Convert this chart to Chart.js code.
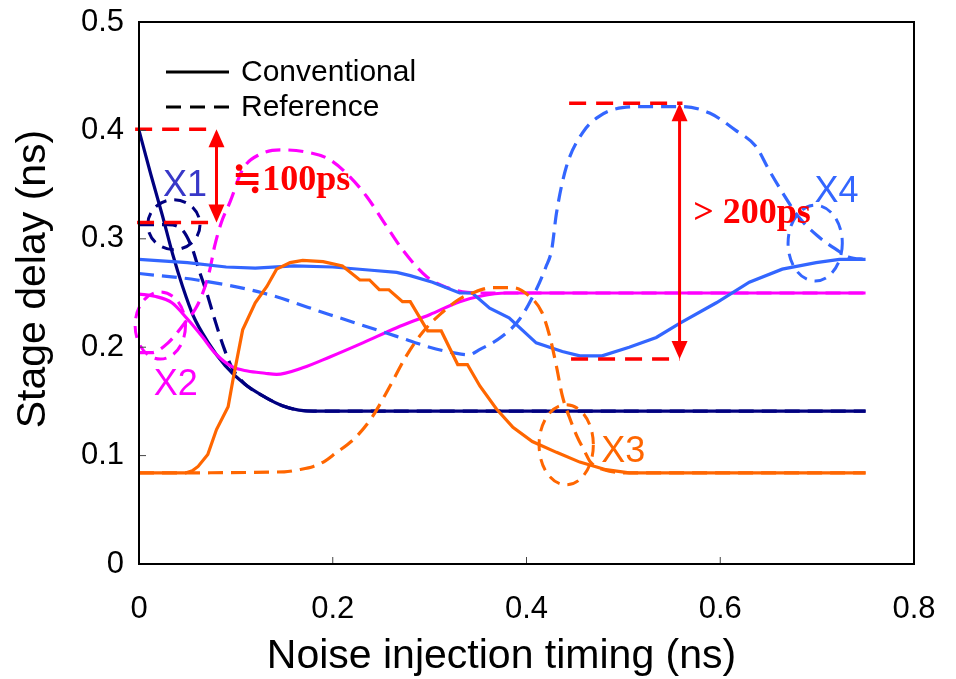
<!DOCTYPE html>
<html>
<head>
<meta charset="utf-8">
<script src="https://cdn.jsdelivr.net/npm/chart.js@4.4.1/dist/chart.umd.min.js"></script>
<style>
  html, body { margin: 0; padding: 0; background: #fff; }
  #wrap { width: 956px; height: 679px; }
</style>
</head>
<body>
<div id="wrap"><canvas id="chart" width="956" height="679"></canvas></div>
<script>
// stage delay (ns) against noise injection timing (ns), as [x, y] pairs
const x1Conventional = [[0,0.400],[0.012,0.360],[0.024,0.322],[0.035,0.285],[0.045,0.256],[0.056,0.229],[0.071,0.205],[0.089,0.183],[0.109,0.166],[0.130,0.154],[0.148,0.146],[0.165,0.142],[0.180,0.141],[0.75,0.141]];
const x1Reference = [[0,0.313],[0.030,0.313],[0.045,0.308],[0.055,0.291],[0.062,0.271],[0.070,0.250],[0.078,0.226],[0.087,0.201],[0.096,0.181],[0.104,0.171],[0.112,0.164],[0.130,0.154],[0.148,0.146],[0.165,0.142],[0.180,0.141],[0.75,0.141]];
const x2Conventional = [[0,0.249],[0.016,0.247],[0.034,0.241],[0.050,0.226],[0.065,0.210],[0.078,0.195],[0.096,0.182],[0.112,0.178],[0.130,0.176],[0.142,0.175],[0.169,0.181],[0.197,0.191],[0.231,0.204],[0.266,0.218],[0.300,0.230],[0.331,0.242],[0.352,0.247],[0.379,0.250],[0.75,0.250]];
const x2Reference = [[0,0.195],[0.013,0.195],[0.030,0.204],[0.047,0.222],[0.058,0.235],[0.065,0.248],[0.073,0.271],[0.078,0.293],[0.085,0.315],[0.094,0.334],[0.107,0.364],[0.125,0.378],[0.148,0.382],[0.173,0.380],[0.197,0.373],[0.218,0.357],[0.235,0.339],[0.256,0.311],[0.272,0.290],[0.297,0.265],[0.318,0.255],[0.334,0.251],[0.350,0.250],[0.75,0.250]];
const x3Conventional = [[0,0.084],[0.048,0.084],[0.055,0.086],[0.061,0.090],[0.071,0.101],[0.080,0.124],[0.092,0.145],[0.097,0.170],[0.107,0.216],[0.120,0.241],[0.132,0.256],[0.142,0.272],[0.156,0.278],[0.169,0.280],[0.190,0.279],[0.210,0.275],[0.228,0.262],[0.238,0.262],[0.248,0.253],[0.258,0.253],[0.272,0.242],[0.280,0.242],[0.298,0.215],[0.312,0.215],[0.329,0.184],[0.339,0.184],[0.352,0.164],[0.369,0.143],[0.386,0.126],[0.406,0.113],[0.431,0.103],[0.455,0.094],[0.482,0.087],[0.506,0.084],[0.75,0.084]];
const x3Reference = [[0,0.084],[0.150,0.085],[0.165,0.087],[0.180,0.090],[0.192,0.095],[0.204,0.103],[0.215,0.110],[0.225,0.118],[0.241,0.136],[0.259,0.164],[0.276,0.192],[0.293,0.214],[0.313,0.232],[0.330,0.244],[0.344,0.250],[0.365,0.255],[0.386,0.255],[0.403,0.247],[0.416,0.232],[0.424,0.210],[0.431,0.182],[0.437,0.155],[0.444,0.136],[0.452,0.118],[0.460,0.104],[0.466,0.094],[0.480,0.087],[0.506,0.084],[0.75,0.084]];
const x4Conventional = [[0,0.281],[0.050,0.278],[0.090,0.274],[0.120,0.273],[0.160,0.275],[0.200,0.274],[0.240,0.271],[0.266,0.269],[0.280,0.266],[0.303,0.260],[0.331,0.250],[0.344,0.250],[0.362,0.236],[0.382,0.227],[0.410,0.204],[0.437,0.196],[0.455,0.192],[0.478,0.192],[0.506,0.200],[0.534,0.209],[0.558,0.222],[0.596,0.241],[0.630,0.260],[0.664,0.272],[0.699,0.278],[0.723,0.281],[0.75,0.281]];
const x4Reference = [[0,0.268],[0.060,0.262],[0.128,0.250],[0.197,0.230],[0.266,0.210],[0.300,0.200],[0.324,0.195],[0.340,0.193],[0.352,0.198],[0.375,0.210],[0.393,0.226],[0.410,0.253],[0.420,0.274],[0.426,0.290],[0.431,0.324],[0.441,0.366],[0.458,0.398],[0.475,0.413],[0.499,0.421],[0.527,0.422],[0.561,0.422],[0.589,0.416],[0.616,0.400],[0.637,0.385],[0.650,0.364],[0.664,0.343],[0.681,0.320],[0.700,0.303],[0.720,0.290],[0.733,0.283],[0.75,0.281]];

const xTickLabels = ['0', '0.2', '0.4', '0.6', '0.8'];
const yTickLabels = ['0', '0.1', '0.2', '0.3', '0.4', '0.5'];
const legendLabels = ['Conventional', 'Reference'];
const xTitle = 'Noise injection timing (ns)';
const yTitle = 'Stage delay (ns)';

const NAVY = '#000080', MAGENTA = '#ff00ff', ORANGE = '#ff6600', BLUE = '#3366ff', RED = '#ff0000';
const DASH = [15, 8];
const SANS = '"Liberation Sans", Arial, sans-serif';

// annotations, in data units (drawn through the scales)
const notes = {
  redDashes: [
    { y: 0.401, x0: -0.004, x1: 0.072 },
    { y: 0.315, x0: -0.002, x1: 0.072 },
    { y: 0.425, x0: 0.444, x1: 0.561 },
    { y: 0.189, x0: 0.446, x1: 0.558 }
  ],
  arrows: [
    { x: 0.080, y0: 0.401, y1: 0.315 },
    { x: 0.558, y0: 0.425, y1: 0.189 }
  ],
  redTexts: [
    { text: '≒100ps', x: 0.096, y: 0.345 },
    { text: '> 200ps', x: 0.572, y: 0.315 }
  ],
  ellipses: [
    { x: 0.036, y: 0.313, rx: 0.027, ry: 0.023, color: NAVY },
    { x: 0.022, y: 0.220, rx: 0.026, ry: 0.031, color: MAGENTA },
    { x: 0.441, y: 0.110, rx: 0.028, ry: 0.037, color: ORANGE },
    { x: 0.698, y: 0.296, rx: 0.028, ry: 0.035, color: BLUE }
  ],
  labels: [
    { text: 'X1', x: 0.0475, y: 0.349, color: '#3838c8' },
    { text: 'X2', x: 0.038, y: 0.165, color: MAGENTA },
    { text: 'X3', x: 0.500, y: 0.103, color: ORANGE },
    { text: 'X4', x: 0.720, y: 0.343, color: BLUE }
  ]
};

function line(data, color, dashed, tension) {
  return {
    data: data.map(p => ({ x: p[0], y: p[1] })),
    borderColor: color,
    borderWidth: 3.2,
    borderDash: dashed ? DASH : [],
    showLine: true,
    fill: false,
    pointRadius: 0,
    tension: tension,
    cubicInterpolationMode: tension ? 'monotone' : 'default'
  };
}

const annotate = {
  id: 'annotate',
  afterDatasetsDraw(chart) {
    const ctx = chart.ctx;
    const xs = chart.scales.x, ys = chart.scales.y;
    const px = v => xs.getPixelForValue(v), py = v => ys.getPixelForValue(v);
    const area = chart.chartArea;
    ctx.save();

    // ellipses round the X marks
    ctx.lineWidth = 3;
    ctx.setLineDash([12, 8]);
    notes.ellipses.forEach(e => {
      ctx.strokeStyle = e.color;
      ctx.beginPath();
      ctx.ellipse(px(e.x), py(e.y), Math.abs(px(e.x + e.rx) - px(e.x)), Math.abs(py(e.y + e.ry) - py(e.y)), 0, 0, Math.PI * 2);
      ctx.stroke();
    });

    // red dashed levels
    ctx.strokeStyle = RED;
    ctx.lineWidth = 3.5;
    ctx.setLineDash([17, 10]);
    notes.redDashes.forEach(d => {
      ctx.beginPath();
      ctx.moveTo(px(d.x0), py(d.y));
      ctx.lineTo(px(d.x1), py(d.y));
      ctx.stroke();
    });

    // double arrows
    ctx.setLineDash([]);
    ctx.fillStyle = RED;
    ctx.lineWidth = 3;
    notes.arrows.forEach(a => {
      const x = px(a.x), top = py(a.y0), bot = py(a.y1), head = 18, half = 8;
      ctx.beginPath();
      ctx.moveTo(x, top + head - 2);
      ctx.lineTo(x, bot - head + 2);
      ctx.stroke();
      ctx.beginPath();
      ctx.moveTo(x, top); ctx.lineTo(x - half, top + head); ctx.lineTo(x + half, top + head);
      ctx.closePath(); ctx.fill();
      ctx.beginPath();
      ctx.moveTo(x, bot); ctx.lineTo(x - half, bot - head); ctx.lineTo(x + half, bot - head);
      ctx.closePath(); ctx.fill();
    });

    ctx.font = 'bold 36px "Liberation Serif", "DejaVu Serif", serif';
    ctx.textAlign = 'left';
    ctx.textBaseline = 'alphabetic';
    notes.redTexts.forEach(t => ctx.fillText(t.text, px(t.x), py(t.y)));

    ctx.font = '36px ' + SANS;
    ctx.textAlign = 'center';
    ctx.textBaseline = 'middle';
    notes.labels.forEach(l => {
      ctx.fillStyle = l.color;
      ctx.fillText(l.text, px(l.x), py(l.y));
    });

    // legend, top left inside the plot
    ctx.strokeStyle = '#000';
    ctx.fillStyle = '#000';
    ctx.lineWidth = 3;
    const lx = area.left + 27, ly = area.top + 50;
    [[], [15, 9]].forEach((dash, i) => {
      const y = ly + i * 35;
      ctx.setLineDash(dash);
      ctx.beginPath();
      ctx.moveTo(lx, y);
      ctx.lineTo(lx + 63, y);
      ctx.stroke();
    });
    ctx.setLineDash([]);
    ctx.font = '30px ' + SANS;
    ctx.textAlign = 'left';
    legendLabels.forEach((s, i) => ctx.fillText(s, lx + 75, ly + i * 35 + 1));

    // axis titles, sitting a little left of / above the plot centre as in the source
    ctx.font = '41px ' + SANS;
    ctx.textAlign = 'center';
    ctx.fillText(xTitle, (area.left + area.right) / 2 - 25, 656.5);
    ctx.save();
    ctx.translate(33.5, (area.top + area.bottom) / 2 - 14);
    ctx.rotate(-Math.PI / 2);
    ctx.fillText(yTitle, 0, 0);
    ctx.restore();

    // inward ticks and frame
    ctx.strokeStyle = '#444';
    ctx.lineWidth = 1;
    xs.ticks.forEach(t => {
      const x = px(t.value);
      ctx.beginPath(); ctx.moveTo(x, area.bottom); ctx.lineTo(x, area.bottom - 7); ctx.stroke();
    });
    ys.ticks.forEach(t => {
      const y = py(t.value);
      ctx.beginPath(); ctx.moveTo(area.left, y); ctx.lineTo(area.left + 7, y); ctx.stroke();
    });
    ctx.strokeStyle = '#000';
    ctx.lineWidth = 2;
    ctx.strokeRect(area.left, area.top, area.right - area.left, area.bottom - area.top);
    ctx.restore();
  }
};

const tickFont = { family: SANS, size: 31 };

new Chart(document.getElementById('chart'), {
  type: 'scatter',
  data: {
    datasets: [
      line(x3Conventional, ORANGE, false, 0),
      line(x3Reference, ORANGE, true, 0.4),
      line(x4Conventional, BLUE, false, 0),
      line(x4Reference, BLUE, true, 0.4),
      line(x2Conventional, MAGENTA, false, 0.4),
      line(x2Reference, MAGENTA, true, 0.4),
      line(x1Conventional, NAVY, false, 0.4),
      line(x1Reference, NAVY, true, 0.4)
    ]
  },
  plugins: [annotate],
  options: {
    responsive: false,
    animation: false,
    events: [],
    layout: { padding: { top: 22, right: 42, left: 0, bottom: 0 } },
    plugins: { legend: { display: false }, tooltip: { enabled: false } },
    scales: {
      x: {
        type: 'linear',
        min: 0, max: 0.8,
        afterFit: s => { s.height = 115; s.paddingLeft = 0; s.paddingRight = 0; },
        grid: { display: false, drawTicks: false },
        border: { display: false },
        ticks: { stepSize: 0.2, color: '#000', font: tickFont, padding: 27, maxRotation: 0,
          callback: v => xTickLabels[Math.round(v / 0.2)] },
        title: { display: false }
      },
      y: {
        type: 'linear',
        min: 0, max: 0.5,
        afterFit: s => { s.width = 139; s.paddingTop = 0; s.paddingBottom = 0; },
        grid: { display: false, drawTicks: false },
        border: { display: false },
        ticks: { stepSize: 0.1, color: '#000', font: tickFont, padding: 15,
          callback: v => yTickLabels[Math.round(v / 0.1)] },
        title: { display: false }
      }
    }
  }
});
</script>
</body>
</html>
